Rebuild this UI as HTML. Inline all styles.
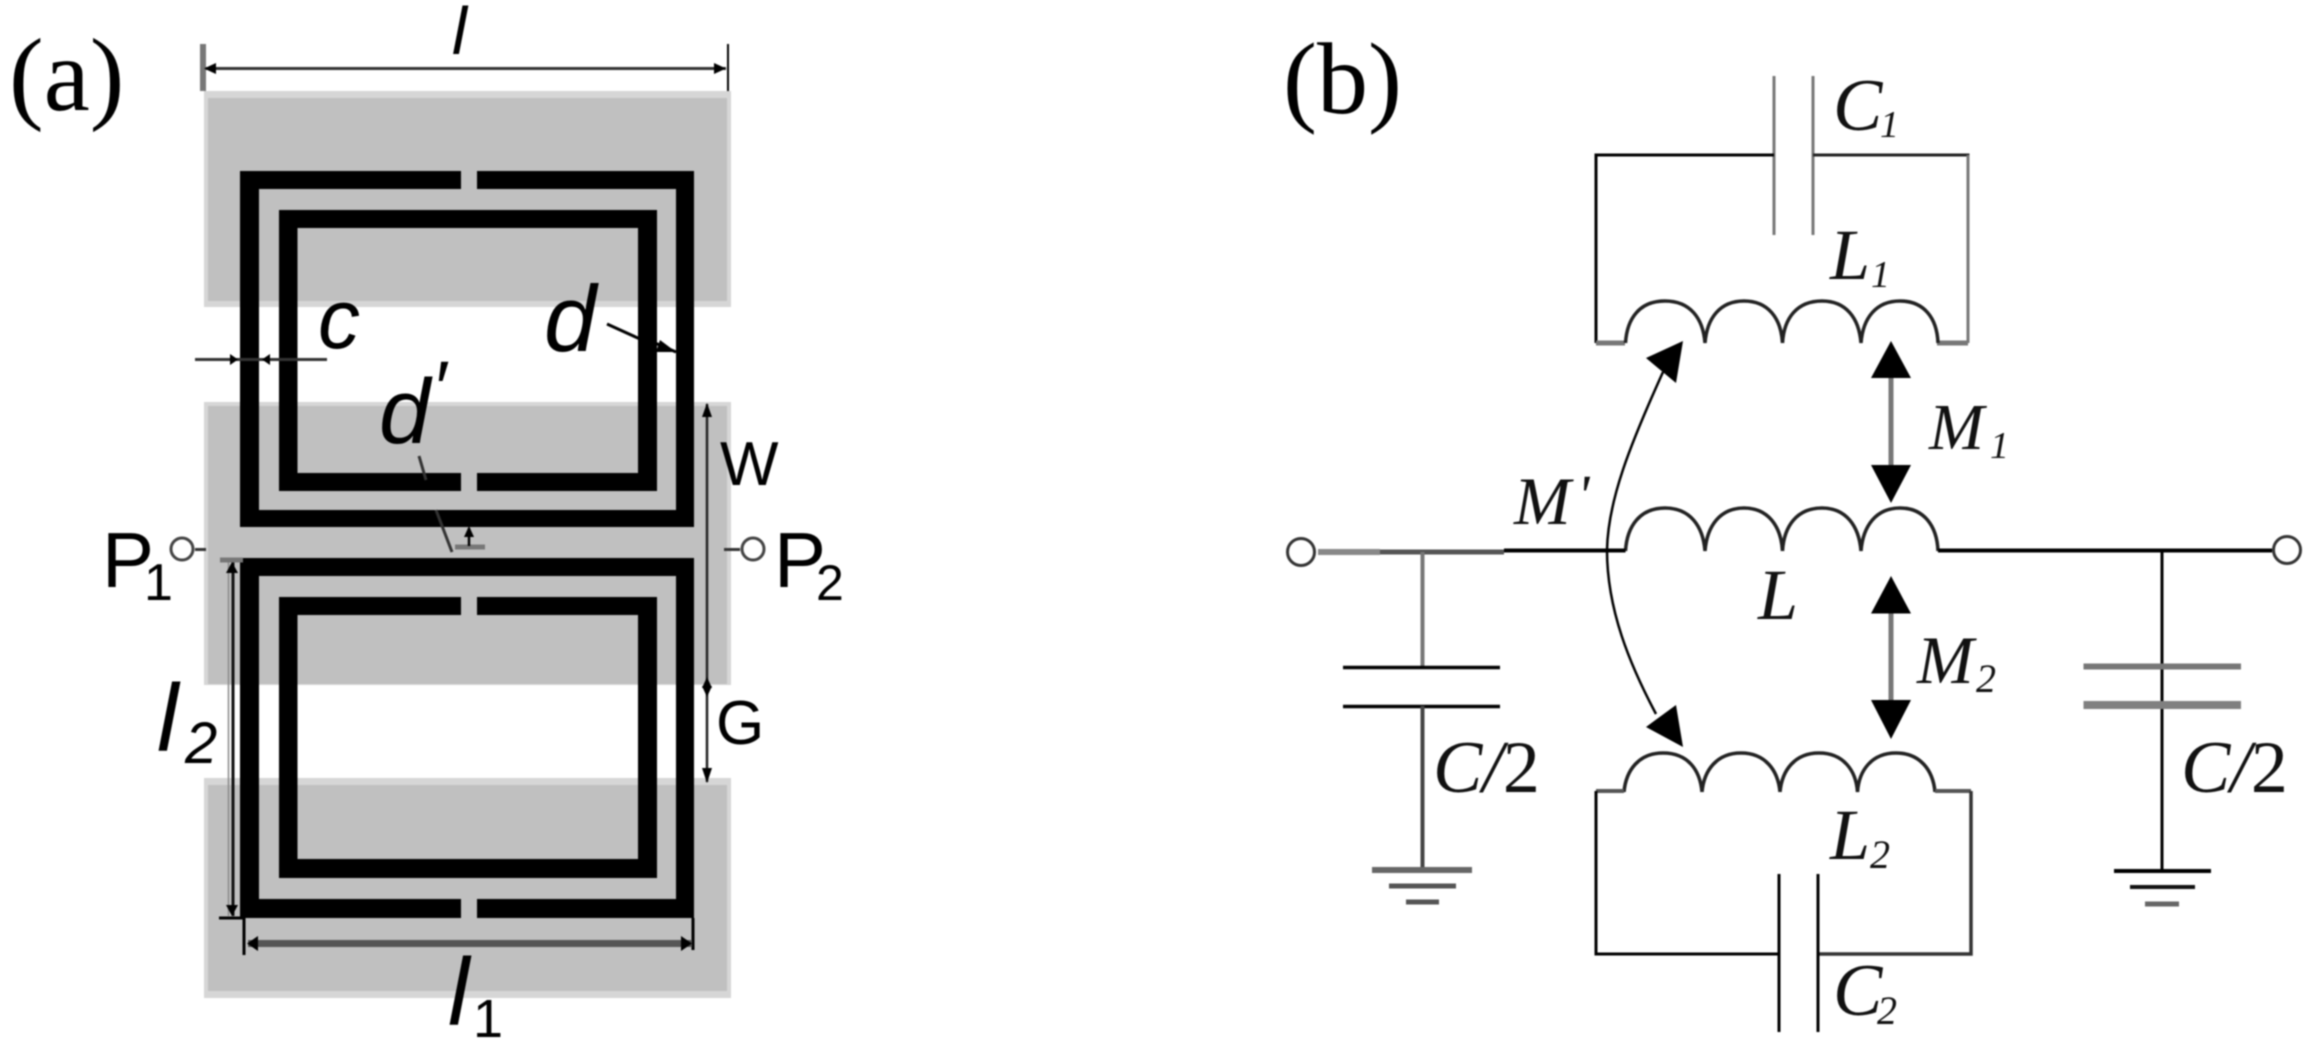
<!DOCTYPE html>
<html>
<head>
<meta charset="utf-8">
<style>
html,body{margin:0;padding:0;background:#fff;width:2311px;height:1053px;overflow:hidden}
svg{display:block;filter:blur(.7px)}
.s{font-family:"Liberation Sans",sans-serif}
.si{font-family:"Liberation Sans",sans-serif;font-style:italic}
.t{font-family:"Liberation Serif",serif}
.ti{font-family:"Liberation Serif",serif;font-style:italic}
</style>
</head>
<body>
<svg width="2311" height="1053" viewBox="0 0 2311 1053" xmlns="http://www.w3.org/2000/svg">
<rect width="2311" height="1053" fill="#fff"/>

<!-- gray bands -->
<g fill="#d6d6d6">
<rect x="204" y="91" width="527" height="216"/>
<rect x="204" y="402" width="527" height="283"/>
<rect x="204" y="778" width="527" height="220"/>
</g>
<g fill="#c0c0c0">
<rect x="208" y="98" width="519" height="203"/>
<rect x="208" y="406" width="519" height="278"/>
<rect x="208" y="785" width="519" height="206"/>
</g>

<!-- upper rings -->
<g fill="#000">
<rect x="240" y="171" width="221" height="18"/>
<rect x="477" y="171" width="217" height="18"/>
<rect x="240" y="171" width="19" height="356"/>
<rect x="676" y="171" width="18" height="356"/>
<rect x="240" y="510" width="454" height="17"/>
<rect x="279" y="210" width="378" height="18"/>
<rect x="279" y="210" width="18.500" height="281"/>
<rect x="638" y="210" width="19" height="281"/>
<rect x="279" y="473" width="182" height="18"/>
<rect x="477" y="473" width="180" height="18"/>
<!-- lower rings -->
<rect x="240" y="558" width="454" height="18"/>
<rect x="240" y="558" width="19" height="360"/>
<rect x="676" y="558" width="18" height="360"/>
<rect x="240" y="899" width="221" height="19"/>
<rect x="477" y="899" width="217" height="19"/>
<rect x="279" y="597" width="182" height="18"/>
<rect x="477" y="597" width="180" height="18"/>
<rect x="279" y="597" width="18.500" height="281"/>
<rect x="638" y="597" width="19" height="281"/>
<rect x="279" y="859" width="378" height="19"/>
</g>

<!-- dimensions (a) -->
<g stroke="#000" fill="none">
<path d="M206 68.500H726" stroke="#333" stroke-width="3"/>
<path d="M203 44V91" stroke="#777" stroke-width="6"/>
<path d="M728 44V91" stroke-width="2"/>
<path d="M195 359.500H327" stroke="#333" stroke-width="3"/>
<path d="M707 404V782" stroke-width="2.500" stroke="#222"/>
<path d="M233 562V916" stroke-width="3" stroke="#111"/>
<path d="M228.500 562V916" stroke-width="1.500" stroke="#888"/>
<path d="M219 918H245" stroke-width="3"/>
<path d="M220 560H243" stroke-width="5" stroke="#777"/>
<path d="M244 918V955" stroke-width="3"/>
<path d="M693 918V950" stroke-width="3"/>
<path d="M248 943.500H692" stroke="#555" stroke-width="7"/>
<path d="M607 324L640 339" stroke-width="3"/>
<path d="M655 343L676 352" stroke-width="3"/>
<path d="M419 456L426 480" stroke-width="3" stroke="#333"/>
<path d="M436 510L452 552" stroke-width="3" stroke="#333"/>
<path d="M455 547H485" stroke="#777" stroke-width="5"/>
<path d="M469 528V546" stroke-width="2.500"/>
<path d="M724 549.500H740" stroke-width="3" stroke="#333"/>
<path d="M195 549.500H206" stroke-width="3" stroke="#333"/>
<circle cx="182" cy="549" r="11" stroke="#444" stroke-width="3"/>
<circle cx="753" cy="549" r="11" stroke="#444" stroke-width="3"/>
</g>
<g fill="#000">
<path d="M204 68.500L216 63V74Z"/>
<path d="M726 68.500L714 63V74Z"/>
<path d="M238 359.500L230 354V365Z"/>
<path d="M262 359.500L270 354V365Z"/>
<path d="M707 403L702 417H712Z"/>
<path d="M707 677L702 688H712Z"/>
<path d="M707 697L702 686H712Z"/>
<path d="M707 783L702 768H712Z"/>
<path d="M232 562L226 573H238Z"/>
<path d="M232 916L226 905H238Z"/>
<path d="M247 943.500L258 936V951Z"/>
<path d="M692 943.500L681 936V951Z"/>
<path d="M676 352L660 340L656 352Z"/>
<path d="M469 526L464 537H474Z"/>
</g>

<!-- labels (a) -->
<text class="t" x="9" y="110" font-size="104">(a)</text>
<text class="si" x="452" y="54" font-size="67">l</text>
<text class="si" x="318" y="348" font-size="84">c</text>
<text class="si" x="544" y="351" font-size="94">d</text>
<text class="si" x="379" y="443" font-size="92">d</text>
<text class="si" x="432" y="414" font-size="76">′</text>
<text class="s" x="720" y="485" font-size="62">W</text>
<text class="s" x="716" y="744" font-size="62">G</text>
<text class="s" x="102" y="587" font-size="78">P</text>
<text class="s" x="144" y="600" font-size="52">1</text>
<text class="s" x="774" y="587" font-size="78">P</text>
<text class="s" x="816" y="600" font-size="50">2</text>
<text class="si" x="157" y="751" font-size="96">l</text>
<text class="si" x="185" y="763" font-size="58">2</text>
<text class="si" x="448" y="1025" font-size="96">l</text>
<text class="s" x="473" y="1037" font-size="54">1</text>

<!-- circuit (b) -->
<g fill="none" stroke="#111" stroke-width="2.500">
<path d="M1774 76V235" stroke="#777" stroke-width="3"/>
<path d="M1813 76V235" stroke="#777" stroke-width="3"/>
<path d="M1596 343V155H1774" stroke="#000" stroke-width="3"/>
<path d="M1813 155H1968V343" stroke="#222" stroke-width="3"/>
<path d="M1968 155V343" stroke="#777" stroke-width="3"/>
<path d="M1596 343H1625" stroke="#777" stroke-width="5"/>
<path d="M1937 343H1968" stroke="#777" stroke-width="5"/>
<path id="a" d="M1625.500 343C1627 318 1640 301 1665 301C1690 301 1703 318 1705 343M1705 343C1707 318 1720 301 1744 301C1768 301 1781 318 1782.500 343M1782.500 343C1784 318 1797 301 1822 301C1846 301 1859 318 1861 343M1861 343C1863 318 1876 301 1900 301C1924 301 1937 318 1938 343" stroke-width="3.500" stroke="#222"/>
<path d="M1625.500 551C1627 526 1640 508 1665 508C1690 508 1703 526 1705 551M1705 551C1707 526 1720 508 1744 508C1768 508 1781 526 1782.500 551M1782.500 551C1784 526 1797 508 1822 508C1846 508 1859 526 1861 551M1861 551C1863 526 1876 508 1900 508C1924 508 1937 526 1938 551" stroke-width="3.500" stroke="#222"/>
<path d="M1624 792C1626 770 1639 753 1663 753C1688 753 1700 770 1702 792M1702 792C1704 770 1717 753 1741 753C1765 753 1778 770 1780 792M1780 792C1782 770 1795 753 1819 753C1843 753 1856 770 1857.500 792M1857.500 792C1859 770 1872 753 1896 753C1920 753 1933 770 1935 792" stroke-width="3.500" stroke="#222"/>
<!-- main line -->
<path d="M1318 552H1380" stroke="#888" stroke-width="6"/>
<path d="M1380 552H1504" stroke="#555" stroke-width="5"/>
<path d="M1504 550.500H1625.500" stroke="#000" stroke-width="4"/>
<path d="M1938 550.500H2272" stroke="#000" stroke-width="4"/>
<circle cx="1301" cy="552" r="13.500" stroke="#333" stroke-width="3"/>
<circle cx="2287" cy="550" r="13.500" stroke="#333" stroke-width="3"/>
<!-- left shunt -->
<path d="M1422.500 552V667" stroke="#777" stroke-width="4"/>
<path d="M1343 667.500H1500" stroke="#000" stroke-width="3.500"/>
<path d="M1343 706.500H1500" stroke="#000" stroke-width="3.500"/>
<path d="M1422.500 706V870" stroke="#444" stroke-width="4"/>
<path d="M1372 870H1472" stroke="#666" stroke-width="6"/>
<path d="M1389 886H1456" stroke="#555" stroke-width="5"/>
<path d="M1406 902H1439" stroke="#555" stroke-width="5"/>
<!-- right shunt -->
<path d="M2162 552V870" stroke="#000" stroke-width="3"/>
<path d="M2083.500 666.500H2241" stroke="#777" stroke-width="6"/>
<path d="M2083.500 705H2241" stroke="#808080" stroke-width="8"/>
<path d="M2114 871H2211" stroke="#000" stroke-width="4"/>
<path d="M2130 887H2195" stroke="#111" stroke-width="4"/>
<path d="M2145 904H2179" stroke="#666" stroke-width="5"/>
<!-- L2 tank -->
<path d="M1596 791H1624" stroke="#555" stroke-width="4"/>
<path d="M1935 791H1971" stroke="#555" stroke-width="4"/>
<path d="M1596 791V954H1779" stroke="#000" stroke-width="3"/>
<path d="M1818 954H1971V791" stroke="#333" stroke-width="3.500"/>
<path d="M1779 874V1032" stroke="#000" stroke-width="3"/>
<path d="M1818 874V1032" stroke="#000" stroke-width="3"/>
<!-- mutual -->
<path d="M1891 378V465M1891 613V700" stroke="#777" stroke-width="5"/>
<path d="M1663 372C1630 445 1608 500 1607 550C1607 610 1630 665 1656 714" stroke="#000" stroke-width="2.500"/>
</g>
<g fill="#000">
<path d="M1891 341L1871 378H1911Z"/>
<path d="M1891 503L1871 465H1911Z"/>
<path d="M1891 576L1871 613.500H1911Z"/>
<path d="M1891 739L1871 700H1911Z"/>
<path d="M1683 341L1646 358L1676 383Z"/>
<path d="M1683 747L1676 705L1646 727Z"/>
</g>

<!-- labels (b) -->
<text class="t" x="1283" y="113" font-size="102">(b)</text>
<g class="ti" fill="#111">
<text x="1833" y="130" font-size="74">C</text>
<text x="1880" y="137" font-size="38">1</text>
<text x="1830" y="279" font-size="72">L</text>
<text x="1871" y="287" font-size="38">1</text>
<text x="1929" y="449" font-size="66">M</text>
<text x="1990" y="458" font-size="38">1</text>
<text x="1514" y="524" font-size="68">M</text>
<text x="1577" y="515" font-size="58">'</text>
<text x="1758" y="619" font-size="72">L</text>
<text x="1917" y="683" font-size="68">M</text>
<text x="1976" y="692" font-size="40">2</text>
<text x="1830" y="859" font-size="72">L</text>
<text x="1870" y="868" font-size="40">2</text>
<text x="1833" y="1015" font-size="74">C</text>
<text x="1877" y="1024" font-size="40">2</text>
<text x="1433" y="792" font-size="74">C/<tspan class="t" font-style="normal">2</tspan></text>
<text x="2181" y="792" font-size="74">C/<tspan class="t" font-style="normal">2</tspan></text>
</g>
</svg>
</body>
</html>
